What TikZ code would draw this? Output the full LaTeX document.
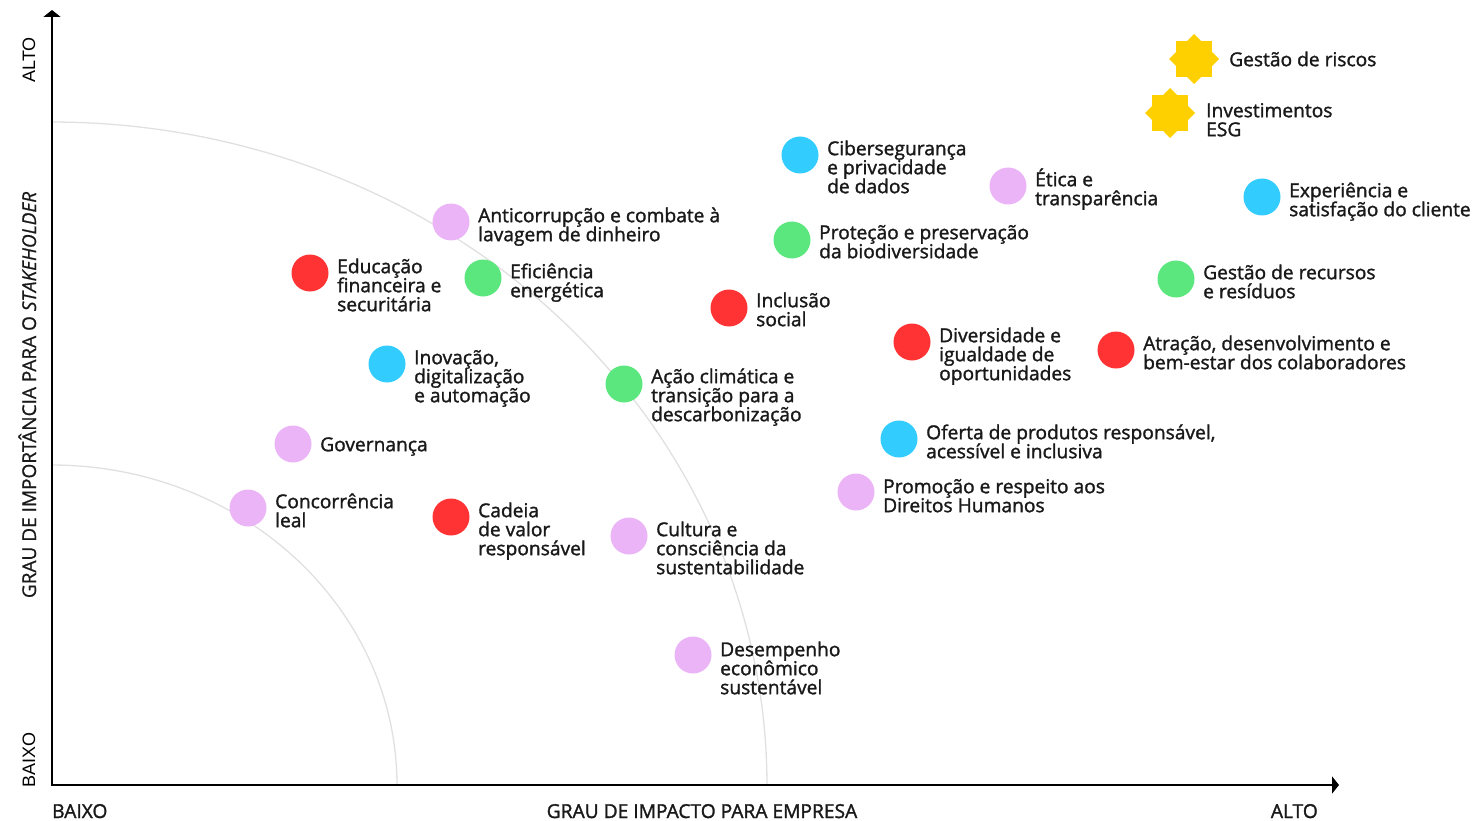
\documentclass[tikz,border=0pt]{standalone}
\usepackage{fontspec}
\setmainfont{Open Sans}
\newfontfamily\lblfont{Open Sans}[FakeBold=1.5]
\newfontfamily\ytfont{Open Sans}[FakeBold=0.8]
\newfontfamily\arialfont{Liberation Sans}
\usetikzlibrary{arrows.meta}
\definecolor{cred}{HTML}{FF3333}
\definecolor{cgreen}{HTML}{5CE67E}
\definecolor{cblue}{HTML}{33CCFF}
\definecolor{cpink}{HTML}{EBB4F7}
\definecolor{cyel}{HTML}{FFD000}
\definecolor{carc}{HTML}{E0E0E0}
\newcommand\myst{\rule{0pt}{19pt}}
\newcommand\tightls{\lineskiplimit=-20pt\relax\lineskip=0pt\relax}
\begin{document}
\begin{tikzpicture}[x=1pt,y=-1pt,
  dot/.style={circle, inner sep=0pt, minimum size=37pt},
  lbl/.style={anchor=north west, inner sep=0pt, align=left, text=black!90,
    font=\lblfont\fontsize{19.2}{19}\selectfont\tightls},
  axl/.style={inner sep=0pt, text=black!90, font=\lblfont\fontsize{19.2}{19}\selectfont},
  vaxl/.style={inner sep=0pt, rotate=90, anchor=base, font=\arialfont\fontsize{18}{18}\selectfont},
  axisline/.style={line width=1.6pt, {Triangle[width=17pt,length=7pt]}-{Triangle[width=17pt,length=7pt]}},
  arcline/.style={carc, line width=1.3pt},
  ystar/.style={fill=cyel}
]
\useasboundingbox (0,0) rectangle (1475,821);

% arcs
\draw[arcline] plot[domain=0:90, samples=120] ({52+715*cos(\x)},{785-663*sin(\x)});
\draw[arcline] plot[domain=0:90, samples=100] ({52+345*cos(\x)},{785-320*sin(\x)});

% axes
\coordinate (O) at (52,785);
\coordinate (Y) at (52,10);
\coordinate (X) at (1339,785);
\draw[axisline] (Y) -- (O) -- (X);

% axis labels
\node[axl, anchor=base west] (xlow) at (52,818) {BAIXO};
\node[axl, anchor=base] (xtitle) at (702,818) {GRAU DE IMPACTO PARA EMPRESA};
\node[axl, anchor=base east] (xhigh) at (1318,818) {ALTO};
\node[vaxl] (yhigh) at (35,60) {ALTO};
\node[vaxl] (ylow) at (35,760) {BAIXO};
\node[inner sep=0pt, rotate=90, anchor=base, font=\ytfont\fontsize{19}{19}\selectfont, text=black!90] (ytitle) at (36,395) {GRAU DE IMPORTÂNCIA PARA O {\itshape STAKEHOLDER}};

% stars
\coordinate (s1) at (1194,59);
\fill[ystar] (s1) +(0:25) -- +(90:25) -- +(180:25) -- +(270:25) -- cycle;
\fill[ystar] (s1) +(45:25) -- +(135:25) -- +(225:25) -- +(315:25) -- cycle;
\node[lbl] (t-s1) at (1229,47) {\myst Gestão de riscos};
\coordinate (s2) at (1170,113);
\fill[ystar] (s2) +(0:25) -- +(90:25) -- +(180:25) -- +(270:25) -- cycle;
\fill[ystar] (s2) +(45:25) -- +(135:25) -- +(225:25) -- +(315:25) -- cycle;
\node[lbl] (t-s2) at (1206,98) {\myst Investimentos\\ESG};

% dots
\node[dot, fill=cblue] (c1) at (800,155) {};
\node[lbl] (t1) at (827,136) {\myst Cibersegurança\\e privacidade\\de dados};

\node[dot, fill=cpink] (c2) at (1008,186) {};
\node[lbl] (t2) at (1035,167) {\myst Ética e\\transparência};

\node[dot, fill=cblue] (c3) at (1262,197) {};
\node[lbl] (t3) at (1289,178) {\myst Experiência e\\satisfação do cliente};

\node[dot, fill=cpink] (c4) at (451,222) {};
\node[lbl] (t4) at (478,203) {\myst Anticorrupção e combate à\\lavagem de dinheiro};

\node[dot, fill=cgreen] (c5) at (792,240) {};
\node[lbl] (t5) at (819,220) {\myst Proteção e preservação\\da biodiversidade};

\node[dot, fill=cred] (c6) at (310,273) {};
\node[lbl] (t6) at (337,254) {\myst Educação\\financeira e\\securitária};

\node[dot, fill=cgreen] (c7) at (483,278) {};
\node[lbl] (t7) at (510,259) {\myst Eficiência\\energética};

\node[dot, fill=cgreen] (c8) at (1176,279) {};
\node[lbl] (t8) at (1203,260) {\myst Gestão de recursos\\e resíduos};

\node[dot, fill=cred] (c9) at (729,308) {};
\node[lbl] (t9) at (756,288) {\myst Inclusão\\social};

\node[dot, fill=cred] (c10) at (912,342) {};
\node[lbl] (t10) at (939,323) {\myst Diversidade e\\igualdade de\\oportunidades};

\node[dot, fill=cred] (c11) at (1116,350) {};
\node[lbl] (t11) at (1143,331) {\myst Atração, desenvolvimento e\\bem-estar dos colaboradores};

\node[dot, fill=cblue] (c12) at (387,364) {};
\node[lbl] (t12) at (414,345) {\myst Inovação,\\digitalização\\e automação};

\node[dot, fill=cgreen] (c13) at (624,384) {};
\node[lbl] (t13) at (651,364) {\myst Ação climática e\\transição para a\\descarbonização};

\node[dot, fill=cblue] (c14) at (899,439) {};
\node[lbl] (t14) at (926,420) {\myst Oferta de produtos responsável,\\acessível e inclusiva};

\node[dot, fill=cpink] (c15) at (293,444) {};
\node[lbl] (t15) at (320,432) {\myst Governança};

\node[dot, fill=cpink] (c16) at (856,492) {};
\node[lbl] (t16) at (883,474) {\myst Promoção e respeito aos\\Direitos Humanos};

\node[dot, fill=cpink] (c17) at (248,508) {};
\node[lbl] (t17) at (275,489) {\myst Concorrência\\leal};

\node[dot, fill=cred] (c18) at (451,517) {};
\node[lbl] (t18) at (478,498) {\myst Cadeia\\de valor\\responsável};

\node[dot, fill=cpink] (c19) at (629,536) {};
\node[lbl] (t19) at (656,517) {\myst Cultura e\\consciência da\\sustentabilidade};

\node[dot, fill=cpink] (c20) at (693,655) {};
\node[lbl] (t20) at (720,637) {\myst Desempenho\\econômico\\sustentável};
\end{tikzpicture}
\end{document}
